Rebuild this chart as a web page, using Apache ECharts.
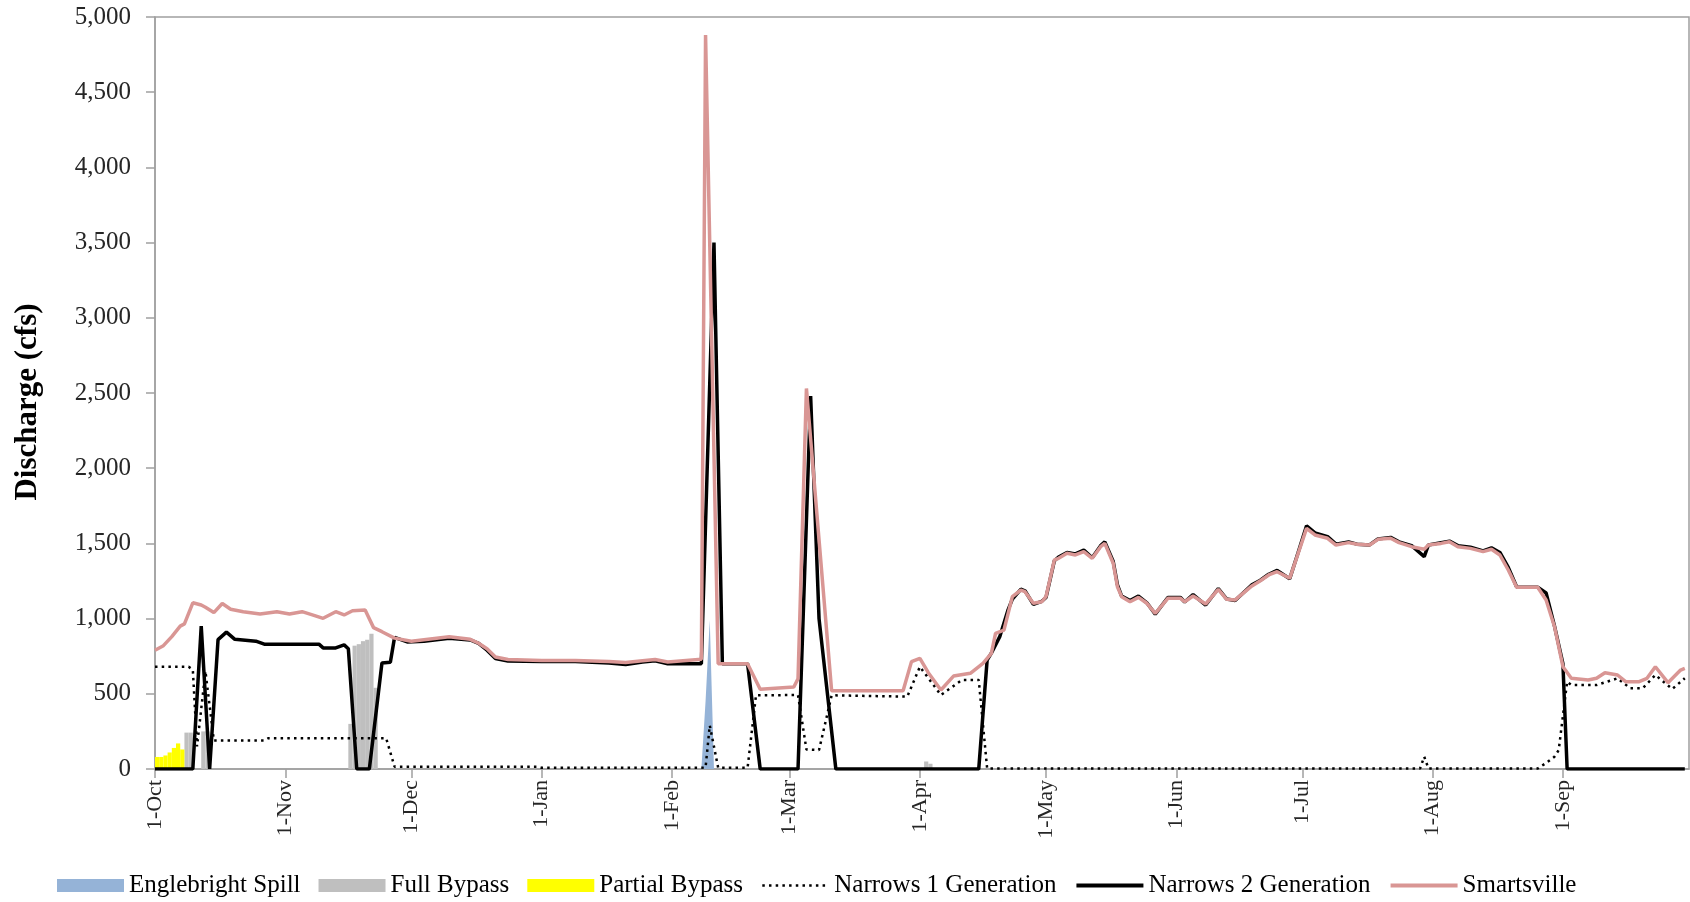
<!DOCTYPE html>
<html>
<head>
<meta charset="utf-8">
<title>Discharge</title>
<script src="https://cdn.jsdelivr.net/npm/echarts@6/dist/echarts.min.js"></script>
<style>
  html, body { margin: 0; padding: 0; background: #fff; }
  #chart { width: 1690px; height: 902px; }
</style>
</head>
<body>
<div id="chart"></div>
<script>
const MONTHS = ['Jan', 'Feb', 'Mar', 'Apr', 'May', 'Jun', 'Jul', 'Aug', 'Sep', 'Oct', 'Nov', 'Dec']

// one category per day, 1-Oct .. 30-Sep, plus the closing 1-Oct of the next year
const days = []
for (let i = 0; i < 366; i++) {
  const dt = new Date(Date.UTC(2010, 9, 1 + i))
  days.push(dt.getUTCDate() + '-' + MONTHS[dt.getUTCMonth()] + (i === 365 ? ' ' : ''))
}
const barDays = days.slice(0, 365)

const yMax = 5000
const yStep = 500

// values (cfs)
const englebrightSpill = [['8-Feb', 0], ['9-Feb', 450], ['10-Feb', 990], ['11-Feb', 0]]

const fullBypass = [
  ['8-Oct', 242], ['9-Oct', 242], ['12-Oct', 250], ['13-Oct', 250],
  ['16-Nov', 300], ['17-Nov', 820], ['18-Nov', 830], ['19-Nov', 850], ['20-Nov', 860], ['21-Nov', 900], ['22-Nov', 540],
  ['2-Apr', 50], ['3-Apr', 35]
]

const partialBypass = [
  ['1-Oct', 80], ['2-Oct', 80], ['3-Oct', 90], ['4-Oct', 110], ['5-Oct', 140], ['6-Oct', 170], ['7-Oct', 130]
]

const narrows1 = [
  ['1-Oct', 680], ['9-Oct', 680], ['10-Oct', 660], ['11-Oct', 150], ['13-Oct', 650], ['15-Oct', 190],
  ['27-Oct', 190], ['28-Oct', 205], ['25-Nov', 205], ['27-Nov', 15], ['31-Dec', 15], ['1-Jan', 8],
  ['8-Feb', 8], ['9-Feb', 10], ['10-Feb', 290], ['11-Feb', 150], ['12-Feb', 8], ['19-Feb', 8],
  ['21-Feb', 490], ['3-Mar', 492], ['5-Mar', 130], ['8-Mar', 126], ['11-Mar', 490], ['29-Mar', 481],
  ['1-Apr', 680], ['6-Apr', 492], ['11-Apr', 592], ['15-Apr', 592], ['17-Apr', 3], ['29-Jul', 3],
  ['30-Jul', 82], ['31-Jul', 3], ['26-Aug', 3], ['28-Aug', 40], ['30-Aug', 82], ['31-Aug', 126],
  ['2-Sep', 580], ['3-Sep', 558], ['9-Sep', 558], ['14-Sep', 603], ['17-Sep', 537], ['20-Sep', 537],
  ['23-Sep', 625], ['27-Sep', 532], ['30-Sep', 603]
]

const narrows2 = [
  ['1-Oct', 0], ['10-Oct', 0], ['12-Oct', 950], ['14-Oct', 0], ['16-Oct', 860], ['18-Oct', 910],
  ['20-Oct', 862], ['25-Oct', 850], ['27-Oct', 830], ['9-Nov', 830], ['10-Nov', 805], ['13-Nov', 805],
  ['15-Nov', 825], ['16-Nov', 800], ['18-Nov', 0], ['21-Nov', 0], ['24-Nov', 705], ['26-Nov', 710],
  ['27-Nov', 875], ['30-Nov', 845], ['4-Dec', 850], ['10-Dec', 870], ['15-Dec', 858], ['17-Dec', 835],
  ['19-Dec', 790], ['21-Dec', 735], ['24-Dec', 718], ['1-Jan', 715], ['9-Jan', 715], ['17-Jan', 705],
  ['21-Jan', 695], ['25-Jan', 712], ['28-Jan', 720], ['31-Jan', 700], ['8-Feb', 700], ['11-Feb', 3500],
  ['13-Feb', 700], ['19-Feb', 700], ['22-Feb', 0], ['3-Mar', 0], ['6-Mar', 2480], ['8-Mar', 1000],
  ['12-Mar', 0], ['15-Apr', 0], ['17-Apr', 725], ['18-Apr', 770], ['20-Apr', 880], ['22-Apr', 1060],
  ['23-Apr', 1130], ['25-Apr', 1195], ['26-Apr', 1185], ['28-Apr', 1095], ['30-Apr', 1115], ['1-May', 1140],
  ['3-May', 1385], ['4-May', 1410], ['6-May', 1440], ['8-May', 1430], ['10-May', 1455], ['12-May', 1405],
  ['14-May', 1485], ['15-May', 1510], ['17-May', 1380], ['18-May', 1225], ['19-May', 1150], ['21-May', 1120],
  ['23-May', 1150], ['25-May', 1105], ['27-May', 1030], ['30-May', 1140], ['2-Jun', 1140], ['3-Jun', 1110],
  ['5-Jun', 1160], ['8-Jun', 1090], ['11-Jun', 1200], ['13-Jun', 1130], ['15-Jun', 1120], ['19-Jun', 1225],
  ['21-Jun', 1255], ['23-Jun', 1295], ['25-Jun', 1320], ['28-Jun', 1265], ['30-Jun', 1440], ['2-Jul', 1617],
  ['4-Jul', 1570], ['7-Jul', 1545], ['9-Jul', 1495], ['12-Jul', 1510], ['14-Jul', 1495], ['17-Jul', 1490],
  ['19-Jul', 1530], ['22-Jul', 1540], ['24-Jul', 1510], ['27-Jul', 1485], ['30-Jul', 1412], ['31-Jul', 1490],
  ['3-Aug', 1505], ['5-Aug', 1515], ['7-Aug', 1485], ['10-Aug', 1475], ['13-Aug', 1450], ['15-Aug', 1470],
  ['17-Aug', 1440], ['19-Aug', 1340], ['21-Aug', 1210], ['26-Aug', 1208], ['28-Aug', 1170], ['30-Aug', 950],
  ['1-Sep', 700], ['2-Sep', 0], ['30-Sep', 0]
]

const smartsville = [
  ['1-Oct', 790], ['3-Oct', 820], ['5-Oct', 880], ['7-Oct', 950], ['8-Oct', 965], ['10-Oct', 1105],
  ['12-Oct', 1090], ['13-Oct', 1075], ['15-Oct', 1040], ['17-Oct', 1100], ['19-Oct', 1062], ['22-Oct', 1046],
  ['26-Oct', 1030], ['30-Oct', 1046], ['2-Nov', 1030], ['5-Nov', 1046], ['8-Nov', 1020], ['10-Nov', 1002],
  ['13-Nov', 1046], ['15-Nov', 1024], ['17-Nov', 1052], ['20-Nov', 1057], ['22-Nov', 940], ['24-Nov', 913],
  ['27-Nov', 870], ['1-Dec', 850], ['4-Dec', 860], ['10-Dec', 880], ['15-Dec', 862], ['17-Dec', 836],
  ['19-Dec', 800], ['21-Dec', 745], ['24-Dec', 728], ['1-Jan', 722], ['9-Jan', 722], ['17-Jan', 715],
  ['21-Jan', 708], ['25-Jan', 720], ['28-Jan', 728], ['31-Jan', 712], ['8-Feb', 730], ['9-Feb', 4880],
  ['12-Feb', 700], ['19-Feb', 700], ['22-Feb', 530], ['2-Mar', 545], ['3-Mar', 600], ['5-Mar', 2530],
  ['11-Mar', 520], ['28-Mar', 520], ['30-Mar', 714], ['1-Apr', 736], ['3-Apr', 640], ['6-Apr', 525],
  ['9-Apr', 618], ['13-Apr', 636], ['16-Apr', 703], ['18-Apr', 769], ['19-Apr', 902], ['21-Apr', 924],
  ['23-Apr', 1146], ['25-Apr', 1190], ['26-Apr', 1179], ['28-Apr', 1102], ['30-Apr', 1112], ['1-May', 1146],
  ['3-May', 1390], ['4-May', 1401], ['6-May', 1434], ['8-May', 1423], ['10-May', 1445], ['12-May', 1401],
  ['14-May', 1478], ['15-May', 1500], ['17-May', 1368], ['18-May', 1212], ['19-May', 1146], ['21-May', 1112],
  ['23-May', 1141], ['25-May', 1102], ['27-May', 1035], ['30-May', 1135], ['2-Jun', 1135], ['3-Jun', 1112],
  ['5-Jun', 1150], ['8-Jun', 1097], ['11-Jun', 1195], ['13-Jun', 1128], ['15-Jun', 1124], ['19-Jun', 1217],
  ['21-Jun', 1252], ['23-Jun', 1290], ['25-Jun', 1312], ['28-Jun', 1268], ['30-Jun', 1434], ['2-Jul', 1600],
  ['4-Jul', 1556], ['7-Jul', 1534], ['9-Jul', 1489], ['12-Jul', 1505], ['14-Jul', 1494], ['17-Jul', 1489],
  ['19-Jul', 1527], ['22-Jul', 1534], ['24-Jul', 1505], ['27-Jul', 1478], ['30-Jul', 1461], ['31-Jul', 1489],
  ['3-Aug', 1500], ['5-Aug', 1511], ['7-Aug', 1478], ['10-Aug', 1467], ['13-Aug', 1445], ['15-Aug', 1461],
  ['17-Aug', 1423], ['19-Aug', 1323], ['21-Aug', 1208], ['26-Aug', 1208], ['28-Aug', 1124], ['30-Aug', 946],
  ['1-Sep', 680], ['3-Sep', 603], ['7-Sep', 592], ['9-Sep', 603], ['11-Sep', 640], ['14-Sep', 625],
  ['16-Sep', 580], ['19-Sep', 580], ['21-Sep', 603], ['23-Sep', 680], ['26-Sep', 574], ['29-Sep', 658],
  ['30-Sep', 669]
]

const FONT = 'Liberation Serif'
const AXIS_GREY = '#A0A0A0'
const isMonthStart = (idx, name) => idx < 365 && name.indexOf('1-') === 0

const chart = echarts.init(document.getElementById('chart'))

const lineSeries = (name, data, color, width, type) => ({
  name,
  type: 'line',
  data,
  symbol: 'none',
  animation: false,
  itemStyle: { color },
  lineStyle: { color, width, type }
})

const barSeries = (name, data, color) => ({
  name,
  type: 'bar',
  xAxisIndex: 1,
  data,
  barWidth: '100%',
  barGap: '-100%',
  animation: false,
  itemStyle: { color }
})

// legend entry for a plain line: hide the marker, keep the stroke
const lineKey = (name, width) => ({ name, itemStyle: { opacity: 0 }, lineStyle: { width } })

chart.setOption({
  backgroundColor: '#fff',
  grid: {
    left: 155,
    right: 1,
    top: 17,
    bottom: 133,
    show: true,
    borderColor: AXIS_GREY,
    borderWidth: 1.5
  },
  legend: {
    left: 52,
    top: 868,
    itemWidth: 67,
    itemHeight: 13,
    itemGap: 18,
    textStyle: { fontFamily: FONT, fontSize: 25, color: '#000' },
    data: [
      { name: 'Englebright Spill', icon: 'rect' },
      { name: 'Full Bypass', icon: 'rect' },
      { name: 'Partial Bypass', icon: 'rect' },
      lineKey('Narrows 1 Generation', 2.5),
      lineKey('Narrows 2 Generation', 4),
      lineKey('Smartsville', 4)
    ]
  },
  xAxis: [
    {
      type: 'category',
      data: days,
      boundaryGap: false,
      axisLine: { lineStyle: { color: AXIS_GREY, width: 1.5 } },
      axisTick: { interval: isMonthStart, length: 9, lineStyle: { color: AXIS_GREY, width: 1.5 } },
      axisLabel: {
        interval: isMonthStart,
        rotate: 90,
        margin: 11,
        fontFamily: FONT,
        fontSize: 22,
        color: '#262626'
      },
      splitLine: { show: false }
    },
    {
      type: 'category',
      data: barDays,
      boundaryGap: true,
      show: false
    }
  ],
  yAxis: {
    type: 'value',
    min: 0,
    max: yMax,
    interval: yStep,
    name: 'Discharge (cfs)',
    nameLocation: 'middle',
    nameGap: 112,
    nameRotate: 90,
    nameTextStyle: {
      fontFamily: FONT,
      fontWeight: 'bold',
      fontSize: 31,
      color: '#000',
      padding: [0, 18, 0, 0]
    },
    axisLine: { show: true, lineStyle: { color: AXIS_GREY, width: 1.5 } },
    axisTick: { show: true, length: 9, lineStyle: { color: AXIS_GREY, width: 1.5 } },
    axisLabel: {
      margin: 24,
      fontFamily: FONT,
      fontSize: 25,
      color: '#262626',
      formatter: v => v.toLocaleString('en-US')
    },
    splitLine: { show: false }
  },
  series: [
    {
      name: 'Englebright Spill',
      type: 'line',
      data: englebrightSpill,
      symbol: 'none',
      animation: false,
      itemStyle: { color: '#95B3D7' },
      lineStyle: { width: 0 },
      areaStyle: { color: '#95B3D7', opacity: 1 }
    },
    barSeries('Full Bypass', fullBypass, '#BFBFBF'),
    barSeries('Partial Bypass', partialBypass, '#FFFF00'),
    lineSeries('Narrows 1 Generation', narrows1, '#000', 2.5, [2.5, 4.2]),
    lineSeries('Narrows 2 Generation', narrows2, '#000', 3.5, 'solid'),
    lineSeries('Smartsville', smartsville, '#D99694', 3.5, 'solid')
  ]
})
</script>
</body>
</html>
